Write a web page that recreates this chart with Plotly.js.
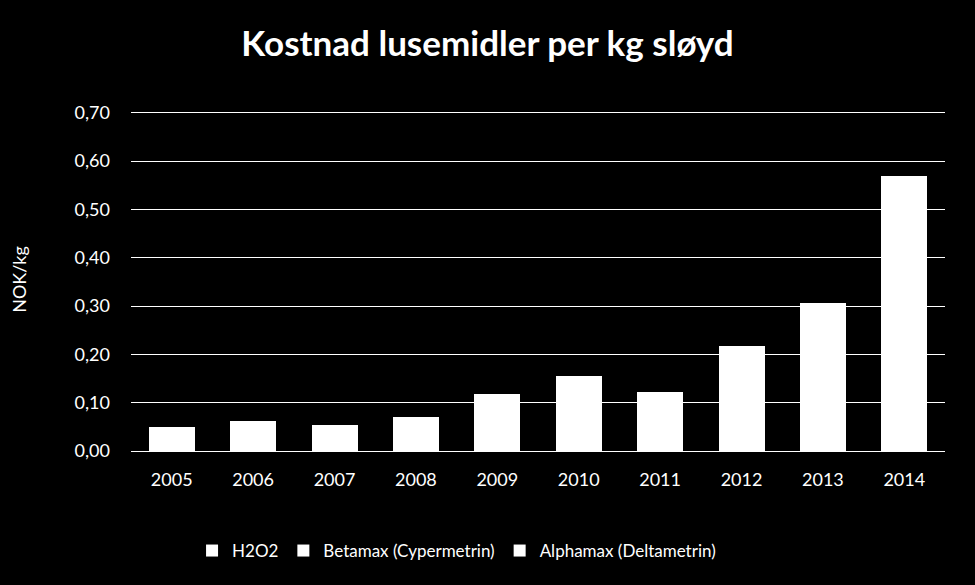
<!DOCTYPE html>
<html>
<head>
<meta charset="utf-8">
<script src="https://cdn.plot.ly/plotly-3.0.1.min.js"></script>
<style>html,body{margin:0;padding:0;background:#000;}</style>
</head>
<body>
<div id="chart" style="width:975px;height:585px;"></div>
<script>
const years = ['2005','2006','2007','2008','2009','2010','2011','2012','2013','2014'];
const h2o2 = [0.000, 0.000, 0.000, 0.000, 0.020, 0.040, 0.030, 0.090, 0.170, 0.420];
const betamax = [0.030, 0.037, 0.030, 0.040, 0.058, 0.065, 0.052, 0.070, 0.076, 0.079];
const alphamax = [0.020, 0.025, 0.024, 0.030, 0.040, 0.050, 0.040, 0.057, 0.060, 0.070];
const seriesNames = ['H2O2', 'Betamax (Cypermetrin)', 'Alphamax (Deltametrin)'];
const yTickVals = [0, 0.1, 0.2, 0.3, 0.4, 0.5, 0.6, 0.7];

const font = 'Lato, "Open Sans", sans-serif';
const traces = [h2o2, betamax, alphamax].map((vals, i) => ({
  type: 'bar', x: years, y: vals, name: seriesNames[i],
  marker: {color: '#ffffff', line: {width: 0}},
  hovertemplate: '%{y:.2f}<extra></extra>'
}));

const layout = {
  width: 975, height: 585,
  paper_bgcolor: '#000', plot_bgcolor: '#000',
  barmode: 'stack', bargap: 0.435,
  margin: {l: 131, r: 30, t: 108, b: 134},
  separators: ',.',
  title: {text: '<b>Kostnad lusemidler per kg sløyd</b>', font: {family: font, size: 35, color: '#fff'},
          x: 0.5, xanchor: 'center', y: 0.925, yanchor: 'middle'},
  font: {family: font, color: '#fff', size: 17},
  xaxis: {type: 'category', showgrid: false, showline: true, linecolor: '#fff', linewidth: 1, ticks: '',
          ticklabelstandoff: 12, tickfont: {size: 18, color: '#fff'}},
  yaxis: {range: [0, 0.71], tickmode: 'array', tickvals: yTickVals, tickformat: '.2f',
          showgrid: true, gridcolor: '#fff', gridwidth: 1,
          zeroline: false, showline: false, ticks: '', ticklen: 0, ticklabelstandoff: 20,
          tickfont: {size: 18, color: '#fff'},
          title: {text: 'NOK/kg', font: {size: 18, color: '#fff'}, standoff: 43}},
  legend: {orientation: 'h', x: 0.075, xanchor: 'left', y: -0.2915, yanchor: 'middle',
           font: {size: 17, color: '#fff'}, traceorder: 'normal', itemwidth: 30},
  showlegend: true
};

Plotly.newPlot('chart', traces, layout, {displayModeBar: false});
</script>
</body>
</html>
